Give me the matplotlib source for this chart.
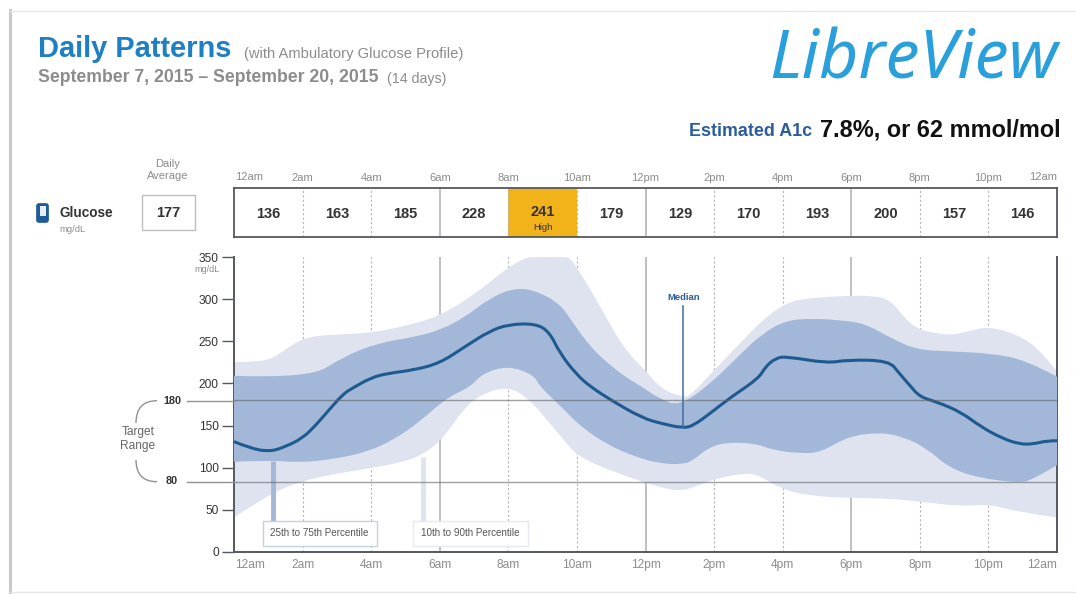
import matplotlib
matplotlib.use('Agg')
import matplotlib.pyplot as plt
from matplotlib.lines import Line2D
from matplotlib.patches import FancyBboxPatch, PathPatch, Rectangle
from matplotlib.path import Path
import numpy as np

plt.rcParams['font.family'] = ['Liberation Sans', 'DejaVu Sans']

# table above the chart
bin_centers = [1, 3, 5, 7, 9, 11, 13, 15, 17, 19, 21, 23]
bin_values = [136, 163, 185, 228, 241, 179, 129, 170, 193, 200, 157, 146]
high_bin = 4
daily_average = 177

hour_ticks = [0, 2, 4, 6, 8, 10, 12, 14, 16, 18, 20, 22, 24]
hour_labels = ['12am', '2am', '4am', '6am', '8am', '10am', '12pm', '2pm', '4pm', '6pm', '8pm', '10pm', '12am']
glucose_ticks = [0, 50, 100, 150, 200, 250, 300, 350]
target_low = 83.5    # the line sits a little above 80 in the picture
target_high = 180

# curves: hours, mg/dL
p90_x = [0, 0.8, 1.2, 2, 3, 4, 5, 6, 7, 8, 8.5, 8.7, 9.6, 9.8, 10, 10.4, 10.9, 11.4, 12, 12.5, 13.1, 13.3, 14, 14.7, 15.4, 16, 16.5, 17.4, 18, 18.65, 19.15, 19.6, 20, 20.85, 21.35, 22, 22.9, 23.5, 24]
p90_y = [225, 226, 231, 255, 258, 260, 268, 280, 305, 338, 349, 350, 350, 349, 337, 311, 275, 240, 215, 192, 184, 185, 216, 245, 275, 293, 300, 303, 304, 304, 299, 275, 263, 257, 261, 268, 257, 240, 214]
p75_x = [0, 2.2, 3.2, 4.2, 5.25, 6, 6.75, 7.45, 8.15, 8.75, 9.5, 9.9, 10.4, 10.9, 11.4, 11.9, 12.4, 13, 13.9, 14.7, 15.4, 16.1, 16.9, 17.7, 18.4, 19.15, 19.9, 20.85, 22, 23.1, 24]
p75_y = [209, 206, 232, 248, 255, 263, 279, 301, 313, 311, 295, 271, 243, 224, 208, 196, 182, 173, 200, 232, 259, 275, 277, 275, 271, 254, 240, 238, 236, 228, 208]
p25_x = [0, 1, 1.9, 2.9, 3.9, 4.65, 5.4, 6.2, 6.9, 7.25, 8, 8.75, 8.9, 9.5, 10.1, 10.9, 11.7, 12.4, 13.1, 13.4, 13.8, 14.3, 15.2, 15.7, 16.5, 17.1, 17.9, 18.8, 19.5, 20.2, 20.85, 21.7, 22.9, 23.3, 24]
p25_y = [107, 109, 106, 110, 119, 133, 154, 183, 196, 212, 221, 210, 197, 174, 149, 127, 113, 105, 104, 109, 123, 130, 129, 121, 117, 118, 137, 142, 137, 123, 100, 88, 82, 86, 103]
p10_x = [0, 1, 1.9, 2.7, 3.9, 4.85, 5.5, 6.1, 6.7, 7.2, 8, 8.65, 9.2, 9.7, 10, 10.7, 11.5, 12.3, 13, 13.5, 14.1, 15, 15.4, 15.9, 16.7, 17.9, 18.9, 20, 21.2, 22, 22.9, 24]
p10_y = [41, 68, 83, 91, 99, 106, 115, 135, 170, 187, 197, 180, 153, 129, 115, 101, 89, 78, 72, 78, 88, 94, 89, 76, 67, 64, 64, 60, 54, 57, 47, 41]
median_x = [0, 0.47, 1.05, 1.5, 2, 2.4, 2.8, 3.2, 3.44, 4, 4.5, 5.25, 6, 6.75, 7.45, 8, 8.8, 9.2, 9.5, 10, 10.4, 11, 11.9, 12.5, 13.1, 13.4, 13.9, 14.5, 15.3, 15.5, 15.8, 16.1, 17.3, 17.9, 19.1, 19.4, 19.7, 20, 20.5, 21.2, 21.8, 22.4, 22.9, 23.3, 23.7, 24]
median_y = [131, 123, 119, 125, 135, 151, 170, 188, 194, 207, 212, 216, 224, 244, 262, 270, 271, 261, 236, 210, 196, 180, 159, 152, 147, 150, 165, 184, 206, 220, 230, 232, 224, 228, 227, 212, 198, 184, 178, 166, 148, 135, 128, 128, 132, 132]
median_mark_hour = 13.1
median_mark_top = 292

W, H = 1076, 594
LEFT, RIGHT = 234, 1057
TOP_PLOT, BOTTOM_PLOT = 257, 552
TABLE_TOP, TABLE_BOTTOM = 188, 237

GREY = '#8c8c8c'
DARK = '#333333'
AXIS = '#55595e'
LIGHT_BAND = '#dfe3f0'
DARK_BAND = '#a3b7d8'
MEDIAN = '#1f5a8f'


def fx(x):
    return x / W


def fy(y):
    return 1 - y / H


def ftext(x, y, s, **kw):
    kw.setdefault('va', 'center')
    return fig.text(fx(x), fy(y), s, **kw)


def fline(xs, ys, **kw):
    fig.add_artist(Line2D([fx(v) for v in xs], [fy(v) for v in ys], transform=fig.transFigure, **kw))


def smooth_verts(xs, ys):
    # rounds the corners of a read-off curve with quadratic segments
    verts = [(xs[0], ys[0])]
    codes = [Path.MOVETO]
    for i in range(1, len(xs) - 1):
        verts.append((xs[i], ys[i]))
        codes.append(Path.CURVE3)
        if i < len(xs) - 2:
            verts.append(((xs[i] + xs[i + 1]) / 2, (ys[i] + ys[i + 1]) / 2))
        else:
            verts.append((xs[-1], ys[-1]))
        codes.append(Path.CURVE3)
    return verts, codes


def band_path(xs1, ys1, xs2, ys2):
    v1, c1 = smooth_verts(xs1, ys1)
    v2, c2 = smooth_verts(xs2[::-1], ys2[::-1])
    c2[0] = Path.LINETO
    return Path(v1 + v2 + [v1[0]], c1 + c2 + [Path.CLOSEPOLY])


fig = plt.figure(figsize=(W / 100, H / 100), dpi=100, facecolor='white')

# card edges
fline([10, 10], [10, 592], color='#c9c9c9', lw=2.2)
fline([10, 1076], [10.5, 10.5], color='#e6e6e6', lw=1)
fline([10, 1076], [592, 592], color='#e6e6e6', lw=1)

# header
ftext(38, 49, 'Daily Patterns', color='#1f7fc4', fontsize=20.9, fontweight='bold')
ftext(244, 54, '(with Ambulatory Glucose Profile)', color=GREY, fontsize=10.6)
ftext(38, 78, 'September 7, 2015 \u2013 September 20, 2015', color=GREY, fontsize=12.7, fontweight='bold')
ftext(387, 79, '(14 days)', color=GREY, fontsize=10.2)
ftext(769, 61, 'LibreView', color='#29a0dc', fontsize=49, style='italic', family='Noto Sans')
ftext(689, 132, 'Estimated A1c', color='#2b5c9e', fontsize=12.9, fontweight='bold')
ftext(820, 130, '7.8%, or 62 mmol/mol', color='#111111', fontsize=16.9, fontweight='bold')

# left of the table
ftext(168, 170, 'Daily\nAverage', color=GREY, fontsize=8, ha='center', linespacing=1.25)
fig.add_artist(Rectangle((fx(142), fy(230)), 53 / W, 35 / H, transform=fig.transFigure, fc='white', ec='#bdbdbd', lw=1))
ftext(168, 213, str(daily_average), color=DARK, fontsize=10.5, ha='center', fontweight='bold')
ftext(59, 213, 'Glucose', color=DARK, fontsize=9.8, fontweight='bold')
ftext(59, 229, 'mg/dL', color=GREY, fontsize=6.8)
fig.add_artist(FancyBboxPatch((fx(39), fy(220)), 7 / W, 14 / H, boxstyle='round,pad=0.002', transform=fig.transFigure, fc='#1f5a9a', ec='#1f5a9a', mutation_aspect=W / H))
fig.add_artist(Rectangle((fx(39.5), fy(216)), 6 / W, 10 / H, transform=fig.transFigure, fc='#e8eef6', ec='none'))

# table
tb = fig.add_axes([fx(LEFT), fy(TABLE_BOTTOM), (RIGHT - LEFT) / W, (TABLE_BOTTOM - TABLE_TOP) / H])
tb.set_xlim(0, 24)
tb.set_ylim(0, 1)
tb.axvspan(bin_centers[high_bin] - 1, bin_centers[high_bin] + 1, color='#f2b31a', lw=0, zorder=1)
for h in hour_ticks[1:-1]:
    if h % 6 == 0:
        tb.axvline(h, color='#b5b5b5', lw=1.2, zorder=2)
    else:
        tb.axvline(h, color='#b5b5b5', lw=0.8, ls=(0, (2, 2)), zorder=2)
for i in range(len(bin_values)):
    if i == high_bin:
        tb.text(bin_centers[i], 0.52, str(bin_values[i]), ha='center', va='center', fontsize=10.5, fontweight='bold', color=DARK)
        tb.text(bin_centers[i], 0.2, 'High', ha='center', va='center', fontsize=6.8, color=DARK)
    else:
        tb.text(bin_centers[i], 0.47, str(bin_values[i]), ha='center', va='center', fontsize=10.5, fontweight='bold', color=DARK)
for s in ['left', 'right', 'top', 'bottom']:
    tb.spines[s].set_color(AXIS)
    tb.spines[s].set_linewidth(1.3)
tb.set_yticks([])
tb.set_xticks(hour_ticks[1:-1])
tb.set_xticklabels(hour_labels[1:-1], color=GREY, fontsize=8)
tb.tick_params(axis='x', top=True, labeltop=True, bottom=False, labelbottom=False, length=0, pad=3.5)
ftext(235, 177, hour_labels[0], color=GREY, fontsize=8)
ftext(1057, 177, hour_labels[-1], color=GREY, fontsize=8, ha='right')

# main chart
ax = fig.add_axes([fx(LEFT), fy(BOTTOM_PLOT), (RIGHT - LEFT) / W, (BOTTOM_PLOT - TOP_PLOT) / H])
ax.set_xlim(0, 24)
ax.set_ylim(0, 350)
ax.set_facecolor('none')

for h in hour_ticks[1:-1]:
    if h % 6 == 0:
        ax.axvline(h, color='#b5b5b5', lw=1.2, zorder=1)
    else:
        ax.axvline(h, color='#b5b5b5', lw=0.8, ls=(0, (2, 2)), zorder=1)

ax.add_patch(PathPatch(band_path(p90_x, p90_y, p10_x, p10_y), fc=LIGHT_BAND, ec='none', zorder=2))
ax.add_patch(PathPatch(band_path(p75_x, p75_y, p25_x, p25_y), fc=DARK_BAND, ec='none', zorder=3))

# callout leaders and boxes
ax.plot([1.13, 1.13], [37, 108], color=DARK_BAND, lw=3.5, zorder=4, solid_capstyle='butt')
ax.plot([5.5, 5.5], [37, 113], color=LIGHT_BAND, lw=3.5, zorder=4, solid_capstyle='butt')
ax.text(2.5, 22, '25th to 75th Percentile', ha='center', va='center', fontsize=7.1, color='#555555', zorder=6,
        bbox=dict(boxstyle='square,pad=0.8', fc='white', ec='#c3d0e6', lw=1))
ax.text(6.9, 22, '10th to 90th Percentile', ha='center', va='center', fontsize=7.1, color='#555555', zorder=6,
        bbox=dict(boxstyle='square,pad=0.8', fc='white', ec='#e6e9f2', lw=1))

mv, mc = smooth_verts(median_x, median_y)
ax.add_patch(PathPatch(Path(mv, mc), fc='none', ec=MEDIAN, lw=2.2, zorder=5, joinstyle='round'))
ax.plot([median_mark_hour, median_mark_hour], [median_y[24], median_mark_top], color='#3f6ea3', lw=1.1, zorder=5)
ax.text(median_mark_hour, median_mark_top + 10, 'Median', ha='center', va='center', fontsize=6.8, color='#2b5c9e', fontweight='bold')

ax.axhline(target_high, color='#5f6468', lw=1, alpha=0.6, zorder=5)
ax.axhline(target_low, color='#5f6468', lw=1, alpha=0.6, zorder=5)

ax.spines['top'].set_visible(False)
for s in ['left', 'right', 'bottom']:
    ax.spines[s].set_color(AXIS)
    ax.spines[s].set_linewidth(1.4)
ax.set_xticks(hour_ticks)
ax.set_xticklabels([''] + hour_labels[1:-1] + [''], color=GREY, fontsize=8.6)
ax.set_yticks(glucose_ticks)
ax.set_yticklabels(glucose_ticks, color=DARK, fontsize=8.6)
ax.tick_params(axis='x', length=0, pad=5)
ax.tick_params(axis='y', length=9, width=1, color=AXIS, pad=2)
ftext(235, 565, hour_labels[0], color=GREY, fontsize=8.6)
ftext(1057, 565, hour_labels[-1], color=GREY, fontsize=8.6, ha='right')

ftext(207, 269, 'mg/dL', color=GREY, fontsize=6.5, ha='center')

# target range bracket
fline([187, LEFT], [400.7, 400.7], color='#8f9397', lw=1)
fline([187, LEFT], [481.7, 481.7], color='#8f9397', lw=1)
ftext(172, 401, str(target_high), color=DARK, fontsize=7.8, ha='center', fontweight='bold')
ftext(172, 481, '80', color=DARK, fontsize=7.8, ha='center', fontweight='bold')
ftext(138, 439, 'Target\nRange', color='#666666', fontsize=8.6, ha='center', linespacing=1.2)
top_arc = Path([(fx(157), fy(400.7)), (fx(136), fy(400.7)), (fx(136), fy(423))], [Path.MOVETO, Path.CURVE3, Path.CURVE3])
low_arc = Path([(fx(136), fy(460)), (fx(136), fy(481.7)), (fx(157), fy(481.7))], [Path.MOVETO, Path.CURVE3, Path.CURVE3])
for arc in [top_arc, low_arc]:
    fig.add_artist(PathPatch(arc, transform=fig.transFigure, fc='none', ec='#8f9397', lw=1))

fig.savefig('out.png', dpi=100)
